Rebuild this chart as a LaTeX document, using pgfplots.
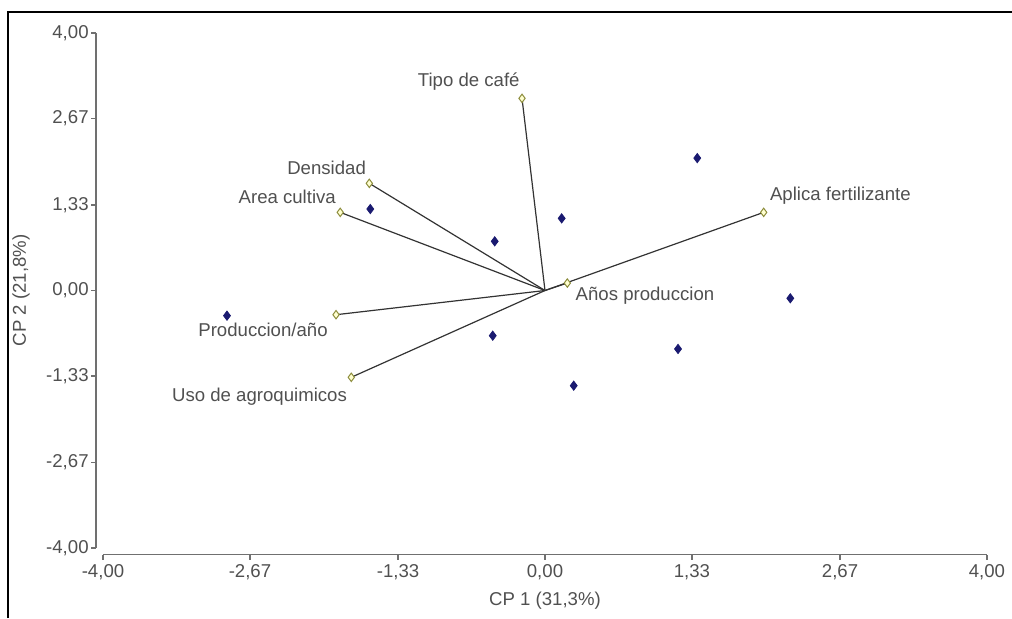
\documentclass[border=0pt]{standalone}
\usepackage{pgfplots}
\pgfplotsset{compat=1.18}
\usepackage{fontspec}
\setmainfont{Liberation Sans}
\definecolor{txt}{HTML}{505050}
\definecolor{axc}{HTML}{707070}
\definecolor{navy}{HTML}{1A1A70}
\definecolor{olive}{HTML}{8C8C3C}
\definecolor{pale}{HTML}{FFFFD0}
\definecolor{vec}{HTML}{333333}
\newcommand{\fs}{\fontsize{9.3}{11}\selectfont}
\begin{document}
\begin{tikzpicture}
\fs
\path[use as bounding box] (0,0) rectangle (506pt,309pt);
\draw[black, line width=1pt] (4pt,0pt) -- (4pt,303pt) -- (506pt,303pt);
\begin{axis}[
  at={(51.5pt,35pt)}, anchor=south west,
  scale only axis, width=442pt, height=257.5pt,
  xmin=-4, xmax=4, ymin=-4, ymax=4,
  axis lines=left,
  axis line style={-, axc, line width=0.8pt},
  axis x line shift=3.3pt,
  axis y line shift=3.5pt,
  tick align=outside,
  major tick length=2.5pt,
  tick style={axc, line width=0.8pt},
  xtick={-4,-2.67,-1.33,0,1.33,2.67,4},
  xticklabels={{-4,00},{-2,67},{-1,33},{0,00},{1,33},{2,67},{4,00}},
  ytick={-4,-2.67,-1.33,0,1.33,2.67,4},
  yticklabels={{-4,00},{-2,67},{-1,33},{0,00},{1,33},{2,67},{4,00}},
  xticklabel style={font=\fs, text=txt, inner sep=1pt, yshift=-1.5pt},
  yticklabel style={font=\fs, text=txt, inner sep=1pt},
  xlabel={CP 1 (31,3\%)},
  ylabel={CP 2 (21,8\%)},
  xlabel style={font=\fs, text=txt, yshift=-1.5pt},
  ylabel style={font=\fs, text=txt, yshift=4pt},
  clip=false,
]
% vectors
\addplot[vec, line width=0.6pt, no marks] coordinates {(0,0) (-0.208,2.985)};
\addplot[vec, line width=0.6pt, no marks] coordinates {(0,0) (-1.590,1.665)};
\addplot[vec, line width=0.6pt, no marks] coordinates {(0,0) (-1.853,1.214)};
\addplot[vec, line width=0.6pt, no marks] coordinates {(0,0) (1.979,1.214)};
\addplot[vec, line width=0.6pt, no marks] coordinates {(0,0) (0.202,0.116)};
\addplot[vec, line width=0.6pt, no marks] coordinates {(0,0) (-1.891,-0.376)};
\addplot[vec, line width=0.6pt, no marks] coordinates {(0,0) (-1.753,-1.348)};
% vector endpoints
\addplot[only marks, mark=diamond*, mark size=2.1pt, mark options={draw=olive, fill=pale, line width=0.5pt}] coordinates {
(-0.208,2.985) (-1.590,1.665) (-1.853,1.214) (1.979,1.214) (0.202,0.116) (-1.891,-0.376) (-1.753,-1.348)};
% observations
\addplot[only marks, mark=diamond*, mark size=2.3pt, mark options={draw=navy, fill=navy}] coordinates {
(-2.878,-0.391) (-1.581,1.266) (-0.455,0.764) (0.151,1.121) (1.378,2.057) (2.220,-0.121) (1.204,-0.908) (0.260,-1.478) (-0.473,-0.702)};
% labels
\node[anchor=south east, text=txt, inner sep=0pt] at ([xshift=-1pt,yshift=4pt]axis cs:-0.208,2.985) {Tipo de café};
\node[anchor=south east, text=txt, inner sep=0pt] at ([xshift=-1.5pt,yshift=4pt]axis cs:-1.590,1.665) {Densidad};
\node[anchor=south east, text=txt, inner sep=0pt] at ([xshift=-2pt,yshift=4pt]axis cs:-1.853,1.214) {Area cultiva};
\node[anchor=south west, text=txt, inner sep=0pt] at ([xshift=3pt,yshift=4pt]axis cs:1.979,1.214) {Aplica fertilizante};
\node[anchor=north west, text=txt, inner sep=0pt] at ([xshift=4pt,yshift=-2pt]axis cs:0.202,0.116) {Años produccion};
\node[anchor=north east, text=txt, inner sep=0pt] at ([xshift=-4pt,yshift=-4pt]axis cs:-1.891,-0.376) {Produccion/año};
\node[anchor=north east, text=txt, inner sep=0pt] at ([xshift=-2pt,yshift=-5pt]axis cs:-1.753,-1.348) {Uso de agroquimicos};
\end{axis}
\end{tikzpicture}
\end{document}
